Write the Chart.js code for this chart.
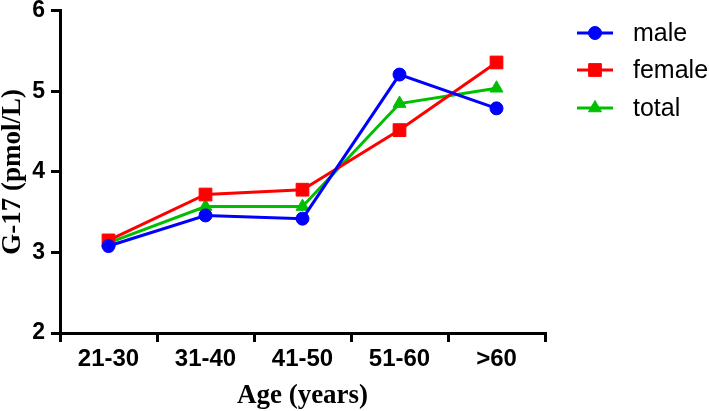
<!DOCTYPE html>
<html>
<head>
<meta charset="utf-8">
<script src="https://cdn.jsdelivr.net/npm/chart.js@4"></script>
<style>
  html, body { margin: 0; padding: 0; background: #fff; }
</style>
</head>
<body>
<canvas id="g17Chart" width="709" height="411"></canvas>
<script>
const ageGroups = ['21-30', '31-40', '41-50', '51-60', '>60'];
const maleValues = [3.08, 3.46, 3.42, 5.21, 4.79];
const femaleValues = [3.15, 3.72, 3.78, 4.52, 5.36];
const totalValues = [3.12, 3.57, 3.57, 4.85, 5.04];
const yMin = 2;
const yMax = 6;

const sansFont = "'Liberation Sans', Arial, sans-serif";
const serifFont = "'Liberation Serif', 'Times New Roman', serif";

// legend drawn as line + marker, like the original figure
const sideLegend = {
  id: 'sideLegend',
  afterDraw(chart) {
    const ctx = chart.ctx;
    const x0 = chart.chartArea.right + 32;
    const rows = [33, 70, 108];
    ctx.save();
    chart.data.datasets.forEach((ds, i) => {
      const y = rows[i];
      ctx.strokeStyle = ds.borderColor;
      ctx.fillStyle = ds.borderColor;
      ctx.lineWidth = 3;
      ctx.beginPath();
      ctx.moveTo(x0, y);
      ctx.lineTo(x0 + 36, y);
      ctx.stroke();
      ctx.lineWidth = 1;
      Chart.helpers.drawPoint(ctx, {
        pointStyle: ds.pointStyle,
        radius: ds.pointRadius,
        rotation: 0,
        borderWidth: 1
      }, x0 + 18, y);
      ctx.fillStyle = '#000';
      ctx.font = '25px ' + sansFont;
      ctx.textBaseline = 'middle';
      ctx.textAlign = 'left';
      ctx.fillText(ds.label, x0 + 56, y + 1);
    });
    ctx.restore();
  }
};

const ctx = document.getElementById('g17Chart').getContext('2d');
new Chart(ctx, {
  type: 'line',
  data: {
    labels: ageGroups,
    datasets: [
      {
        label: 'male',
        data: maleValues,
        borderColor: '#0000ff',
        backgroundColor: '#0000ff',
        borderWidth: 3,
        pointStyle: 'circle',
        pointRadius: 6.5,
        pointBorderWidth: 1
      },
      {
        label: 'female',
        data: femaleValues,
        borderColor: '#ff0000',
        backgroundColor: '#ff0000',
        borderWidth: 3,
        pointStyle: 'rect',
        pointRadius: 9,
        pointBorderWidth: 1
      },
      {
        label: 'total',
        data: totalValues,
        borderColor: '#00bf00',
        backgroundColor: '#00bf00',
        borderWidth: 3,
        pointStyle: 'triangle',
        pointRadius: 7.5,
        pointBorderWidth: 1
      }
    ]
  },
  options: {
    responsive: false,
    animation: false,
    devicePixelRatio: 1,
    layout: { padding: { top: 0, right: 164, left: 0, bottom: 0 } },
    plugins: {
      legend: { display: false },
      tooltip: { enabled: false }
    },
    scales: {
      x: {
        offset: true,
        border: { color: '#000', width: 3 },
        grid: {
          offset: true,
          drawOnChartArea: false,
          color: '#000',
          lineWidth: 3,
          tickLength: 9
        },
        ticks: {
          color: '#000',
          padding: 3,
          maxRotation: 0,
          font: { family: sansFont, size: 24, weight: 'bold' }
        },
        title: {
          display: true,
          text: 'Age (years)',
          color: '#000',
          padding: { top: 0, bottom: 1 },
          font: { family: serifFont, size: 27, weight: 'bold', lineHeight: 1 }
        },
        afterFit(scale) { scale.height = 78; }
      },
      y: {
        min: yMin,
        max: yMax,
        border: { color: '#000', width: 3 },
        grid: {
          drawOnChartArea: false,
          color: '#000',
          lineWidth: 3,
          tickLength: 9
        },
        ticks: {
          stepSize: 1,
          color: '#000',
          padding: 6,
          font: { family: sansFont, size: 23, weight: 'bold', lineHeight: 0.43 }
        },
        title: {
          display: true,
          text: 'G-17 (pmol/L)',
          color: '#000',
          padding: 0,
          font: { family: serifFont, size: 27, weight: 'bold', lineHeight: 1 }
        },
        afterFit(scale) { scale.width = 60; }
      }
    }
  },
  plugins: [sideLegend]
});
</script>
</body>
</html>
